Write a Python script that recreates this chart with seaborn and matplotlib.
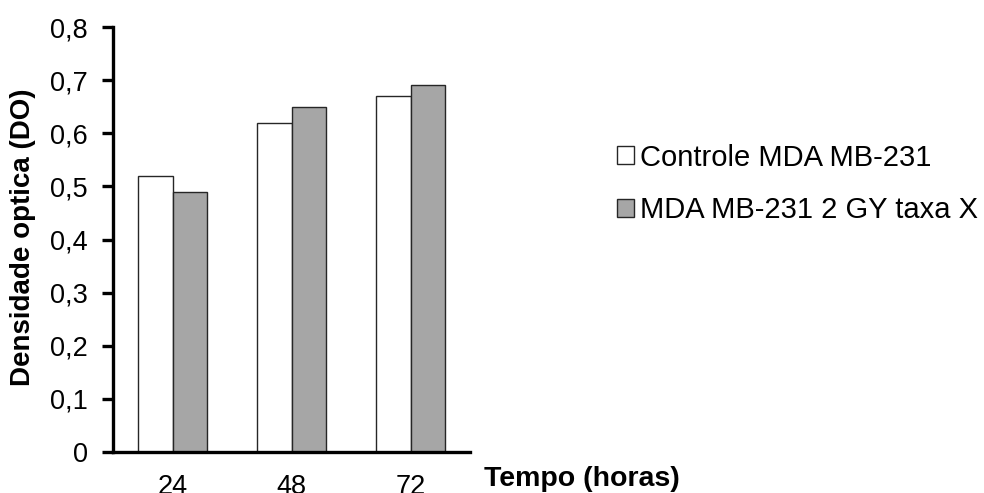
import matplotlib
matplotlib.use("Agg")
import matplotlib.pyplot as plt
from matplotlib.ticker import FuncFormatter, MultipleLocator
import seaborn as sns
import pandas as pd

# Data
tempos = ["24", "48", "72"]
grupos = ["Controle MDA MB-231", "MDA MB-231 2 GY taxa X"]
controle = [0.52, 0.62, 0.67]
irradiado = [0.49, 0.65, 0.69]
cores = ["#FFFFFF", "#A6A6A6"]

df = pd.DataFrame({
    "Tempo": tempos * 2,
    "DO": controle + irradiado,
    "Grupo": [grupos[0]] * len(tempos) + [grupos[1]] * len(tempos),
})

sns.set_style("white")
plt.rcParams["font.family"] = ["Liberation Sans", "DejaVu Sans"]
plt.rcParams["text.color"] = "black"
plt.rcParams["axes.labelcolor"] = "black"

fig = plt.figure(figsize=(9.84, 4.93), dpi=100)
ax = fig.add_axes([113 / 984, 1 - 452 / 493, 357 / 984, 425 / 493])

sns.barplot(
    data=df, x="Tempo", y="DO", hue="Grupo", order=tempos, hue_order=grupos,
    palette=cores, edgecolor="#262626", linewidth=1.0, width=0.58, gap=0,
    saturation=1, errorbar=None, ax=ax,
)

ax.set_xlim(-0.5, 2.5)
ax.set_ylim(0, 0.8)
ax.yaxis.set_major_locator(MultipleLocator(0.1))
ax.yaxis.set_major_formatter(
    FuncFormatter(lambda v, _: "0" if abs(v) < 1e-9 else f"{v:.1f}".replace(".", ","))
)

for side in ["top", "right"]:
    ax.spines[side].set_visible(False)
for side in ["left", "bottom"]:
    ax.spines[side].set_linewidth(2.4)
    ax.spines[side].set_color("black")

ax.tick_params(axis="y", direction="out", length=8, width=2.4, pad=10,
               labelsize=19.5, colors="black", left=True)
ax.tick_params(axis="x", length=0, pad=16, labelsize=19.5, colors="black")

ax.set_ylabel("Densidade optica (DO)", fontsize=20, fontweight="bold", va="center")
ax.yaxis.set_label_coords(-0.252, 0.506)
ax.set_xlabel("Tempo (horas)", fontsize=20.5, fontweight="bold", va="center")
ax.xaxis.set_label_coords(1.314, -0.064)

handles, labels = ax.get_legend_handles_labels()
ax.legend(
    handles, labels, loc="center left",
    bbox_to_anchor=(617 / 984, 1 - 184 / 493), bbox_transform=fig.transFigure,
    frameon=False, fontsize=21, handlelength=0.58, handleheight=0.58,
    handletextpad=0.2, labelspacing=0.85, borderpad=0, borderaxespad=0,
)

fig.savefig("out.png", dpi=100)
